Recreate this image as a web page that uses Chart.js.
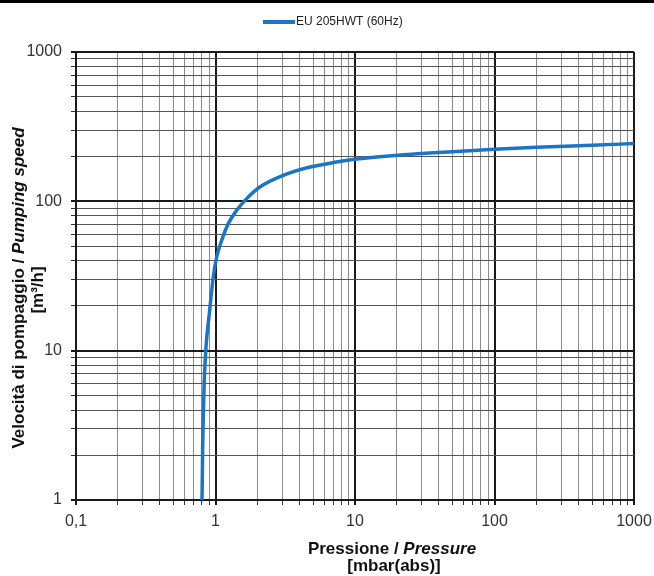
<!DOCTYPE html>
<html>
<head>
<meta charset="utf-8">
<script src="https://cdn.jsdelivr.net/npm/chart.js@4/dist/chart.umd.min.js"></script>
<style>
  html, body { margin: 0; padding: 0; background: #fff; }
  #wrap { width: 654px; height: 576px; }
</style>
</head>
<body>
<div id="wrap"><canvas id="chart" width="654" height="576"></canvas></div>
<script>
const seriesName = "EU 205HWT (60Hz)";
const pressure = [0.80, 0.804, 0.809, 0.818, 0.831, 0.855, 0.903, 0.964, 1.02, 1.108, 1.235, 1.419, 1.674, 2.08, 3.06, 4.76, 7.39, 10.3, 21, 50, 100, 200, 500, 1000];
const speed    = [1, 1.36, 2.27, 3.8, 6.35, 10.6, 17.7, 31.2, 42.4, 54.8, 70.9, 87.1, 104.3, 124.7, 149.3, 169.7, 183.2, 191.9, 204, 215, 223, 230, 237, 244];
const xDecades = [0.1, 1, 10, 100, 1000];
const yDecades = [1, 10, 100, 1000];

const lineColor = "#1a75c6";
const fontFamily = "'Liberation Sans', Arial, sans-serif";

function logTicks(decades) {
  const out = [];
  for (let i = 0; i < decades.length - 1; i++) {
    for (let m = 1; m < 10; m++) out.push(+(decades[i] * m).toPrecision(6));
  }
  out.push(decades[decades.length - 1]);
  return out;
}
const isMajor = (decades, v) => decades.some(d => Math.abs(d - v) / d < 1e-6);

const overlay = {
  id: "overlay",
  afterDraw(chart) {
    const ctx = chart.ctx;
    ctx.save();
    // page rule at top
    ctx.fillStyle = "#000";
    ctx.fillRect(0, 0, 654, 3);

    // legend
    ctx.strokeStyle = lineColor;
    ctx.lineWidth = 4;
    ctx.beginPath();
    ctx.moveTo(263, 22);
    ctx.lineTo(295, 22);
    ctx.stroke();
    ctx.fillStyle = "#222";
    ctx.font = "12px " + fontFamily;
    ctx.textBaseline = "middle";
    ctx.textAlign = "left";
    ctx.fillText(seriesName, 296, 22);

    // centred text made of plain and italic parts
    function mixed(parts, cx, cy) {
      let w = 0;
      parts.forEach(p => { ctx.font = p.font; w += ctx.measureText(p.text).width; });
      let x = cx - w / 2;
      parts.forEach(p => {
        ctx.font = p.font;
        ctx.fillText(p.text, x, cy);
        x += ctx.measureText(p.text).width;
      });
    }
    const b = "bold 17px " + fontFamily;
    const bi = "italic bold 17px " + fontFamily;
    ctx.fillStyle = "#111";
    mixed([{text: "Pressione / ", font: b}, {text: "Pressure", font: bi}], 392, 549);
    mixed([{text: "[mbar(abs)]", font: b}], 394, 566);

    ctx.save();
    ctx.translate(19, 288);
    ctx.rotate(-Math.PI / 2);
    mixed([{text: "Velocità di pompaggio / ", font: b}, {text: "Pumping speed", font: bi}], 0, 0);
    ctx.restore();
    ctx.save();
    ctx.translate(38, 290);
    ctx.rotate(-Math.PI / 2);
    mixed([{text: "[m³/h]", font: b}], 0, 0);
    ctx.restore();
    ctx.restore();
  }
};

const gridStyle = (decades, minorColor) => ({
  color: c => isMajor(decades, c.tick.value) ? "#1a1a1a" : minorColor,
  lineWidth: c => isMajor(decades, c.tick.value) ? 2 : 1,
  tickColor: c => isMajor(decades, c.tick.value) ? "#1a1a1a" : "#333",
  tickLength: 5,
  drawTicks: true
});

new Chart(document.getElementById("chart"), {
  type: "line",
  data: {
    datasets: [{
      label: seriesName,
      data: pressure.map((p, i) => ({ x: p, y: speed[i] })),
      borderColor: lineColor,
      borderWidth: 3.5,
      pointRadius: 0,
      cubicInterpolationMode: "monotone",
      fill: false
    }]
  },
  options: {
    responsive: false,
    animation: false,
    layout: { padding: { top: 52, right: 20, left: 0, bottom: 0 } },
    plugins: { legend: { display: false }, tooltip: { enabled: false } },
    scales: {
      x: {
        type: "logarithmic",
        min: 0.1, max: 1000,
        afterBuildTicks: s => { s.ticks = logTicks(xDecades).map(v => ({ value: v })); },
        afterFit: s => { s.height = 76; s.paddingLeft = 0; s.paddingRight = 0; },
        grid: gridStyle(xDecades, "#8c8c8c"),
        border: { color: "#1a1a1a", width: 2 },
        ticks: {
          autoSkip: false, maxRotation: 0, padding: 7,
          color: "#333",
          font: { family: fontFamily, size: 16 },
          callback: v => isMajor(xDecades, v) ? String(v).replace(".", ",") : ""
        }
      },
      y: {
        type: "logarithmic",
        min: 1, max: 1000,
        afterBuildTicks: s => { s.ticks = logTicks(yDecades).map(v => ({ value: v })); },
        afterFit: s => { s.width = 76; s.paddingTop = 0; s.paddingBottom = 0; },
        grid: gridStyle(yDecades, "#555"),
        border: { color: "#1a1a1a", width: 2 },
        ticks: {
          autoSkip: false, padding: 9,
          color: "#333",
          font: { family: fontFamily, size: 16 },
          callback: v => isMajor(yDecades, v) ? String(v) : ""
        }
      }
    }
  },
  plugins: [overlay]
});
</script>
</body>
</html>
